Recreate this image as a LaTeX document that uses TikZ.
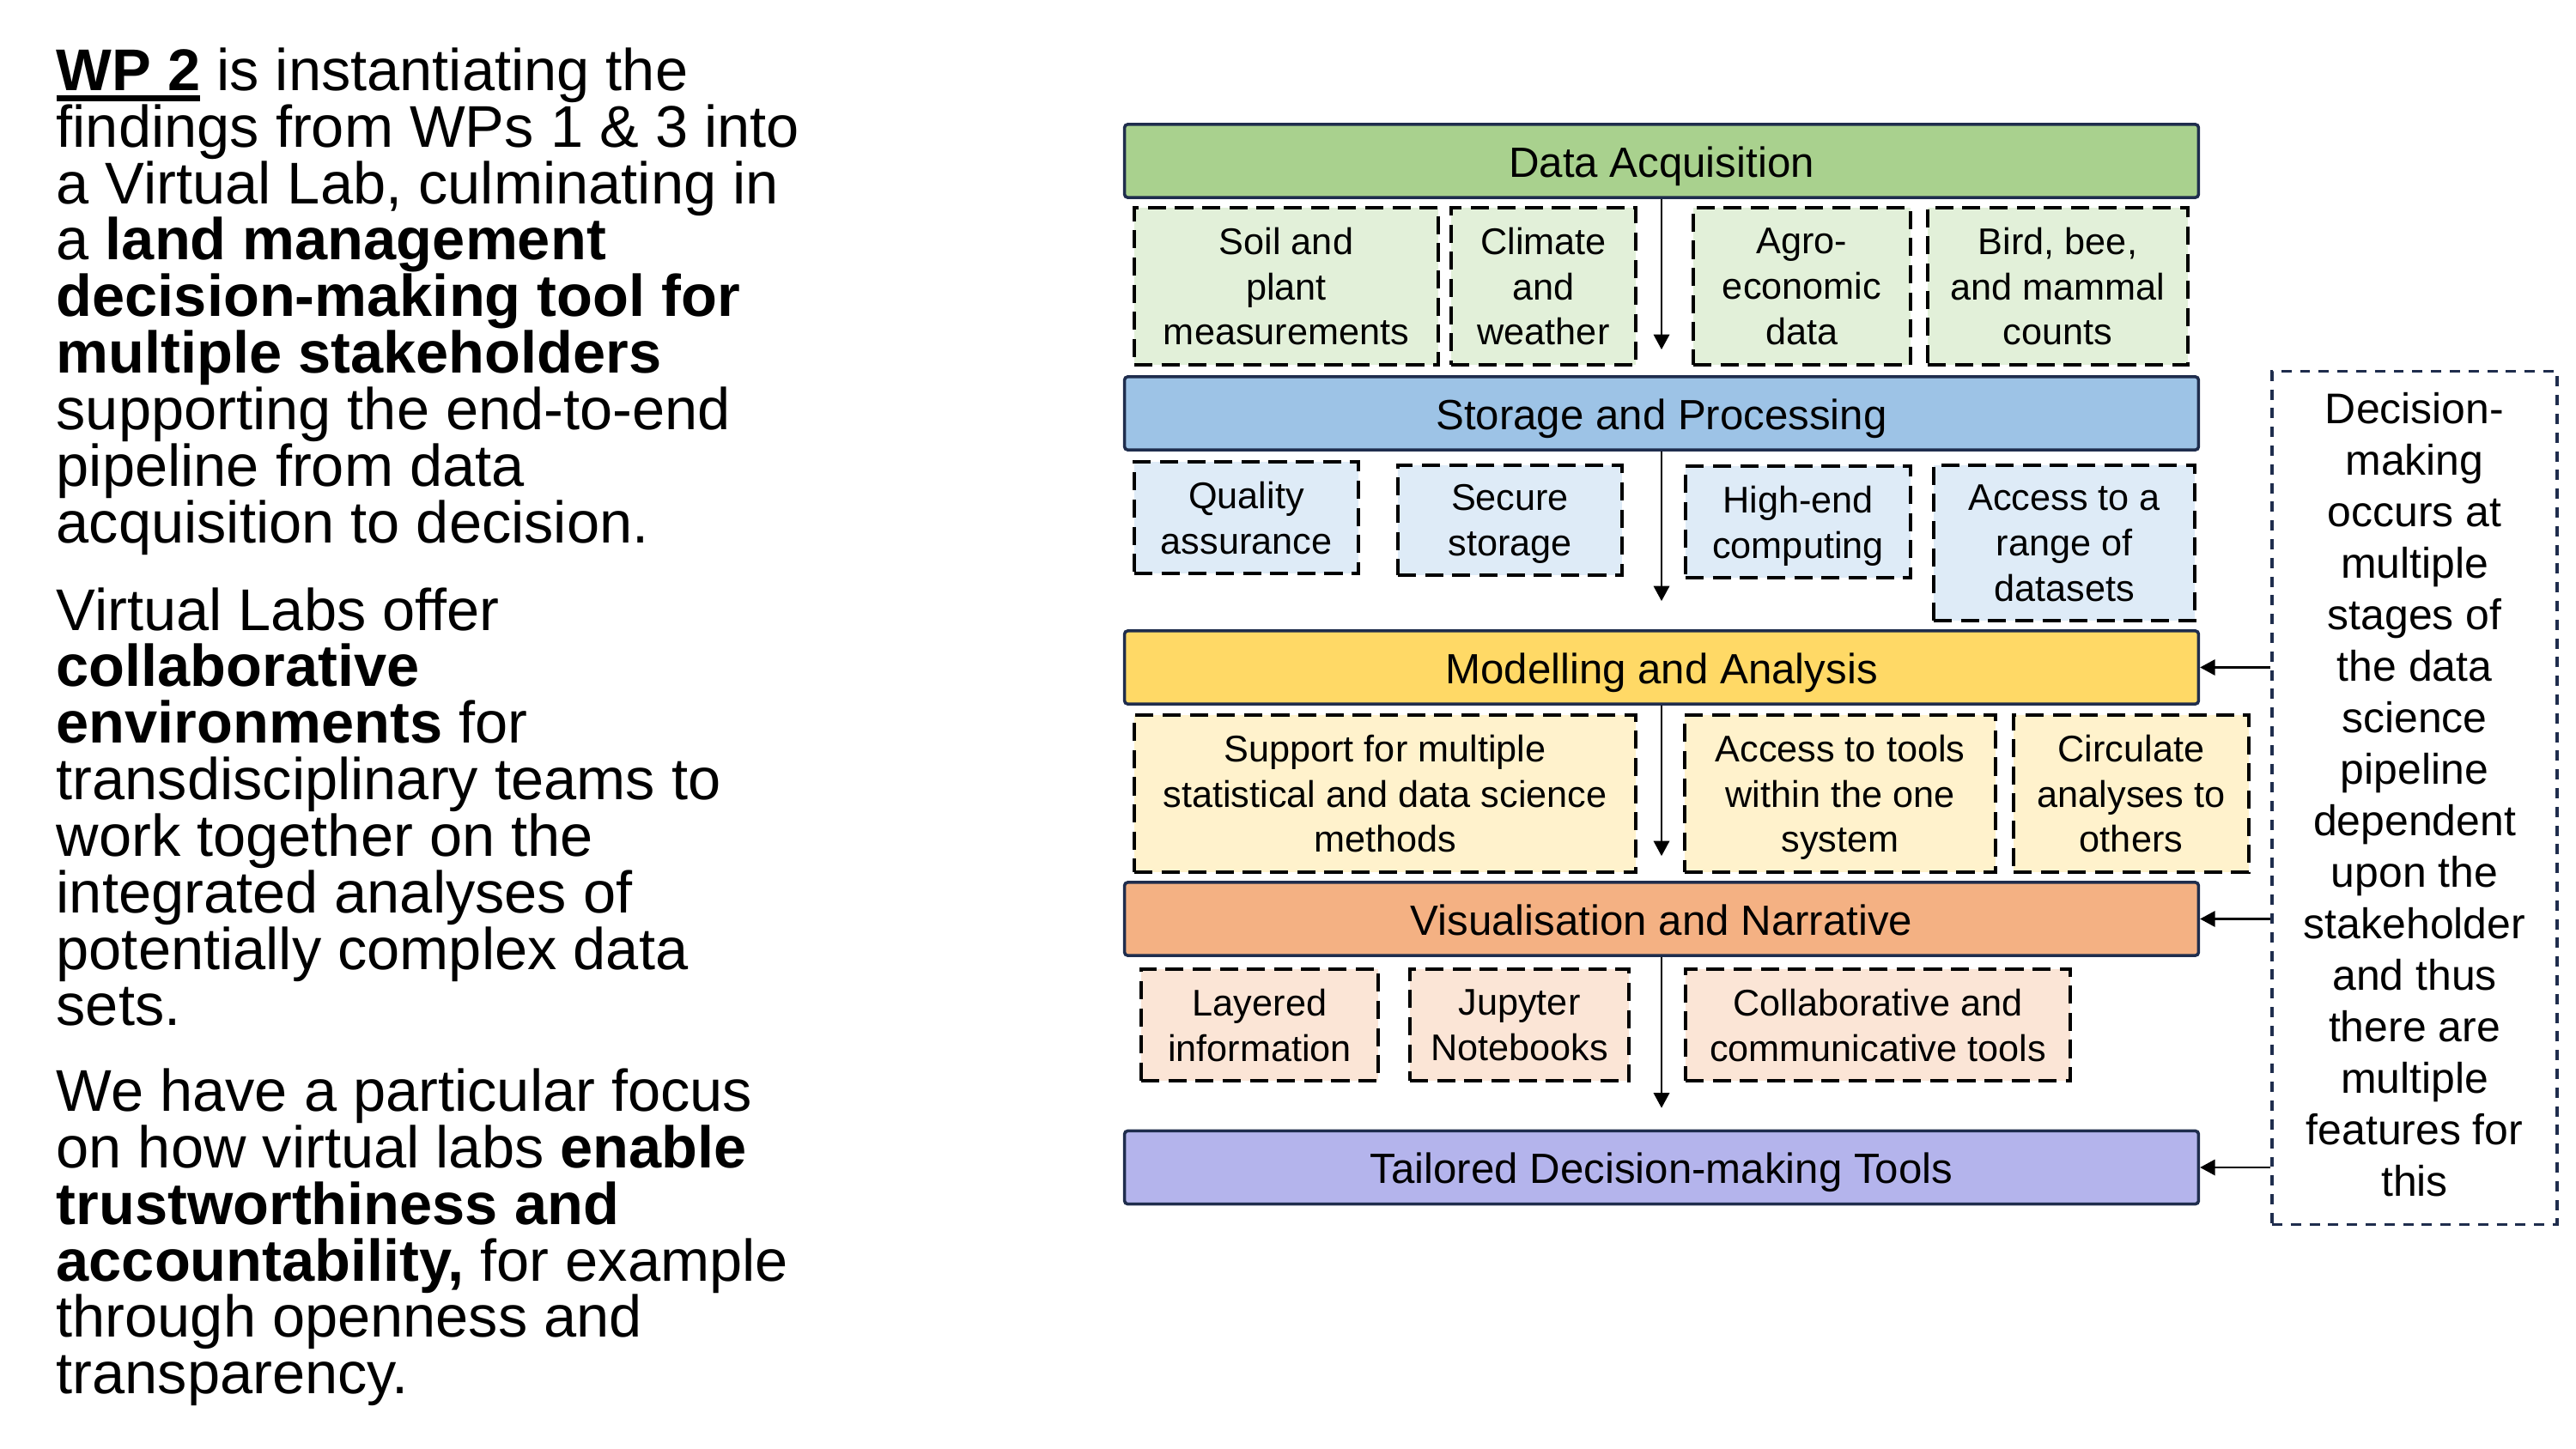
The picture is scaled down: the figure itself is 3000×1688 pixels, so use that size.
\documentclass[tikz,border=0pt]{standalone}
\usepackage{fontspec}
\setmainfont{Liberation Sans}
\usepackage{tikz}
\usepackage{xcolor}
\usetikzlibrary{arrows.meta}

\definecolor{navy}{HTML}{1F2D4D}
\definecolor{acqdark}{HTML}{A9D18E}
\definecolor{acqlight}{HTML}{E2F0D9}
\definecolor{stordark}{HTML}{9DC3E6}
\definecolor{storlight}{HTML}{DEEBF7}
\definecolor{modeldark}{HTML}{FFD966}
\definecolor{modellight}{HTML}{FFF2CC}
\definecolor{visdark}{HTML}{F4B183}
\definecolor{vislight}{HTML}{FBE5D6}
\definecolor{tooldark}{HTML}{B4B4EC}

\newcommand{\wpunder}[1]{\setbox0\hbox{#1}\rlap{\rule[-3.7pt]{\wd0}{2pt}}\box0\relax}

\tikzset{
  stage/.style={draw=navy,line width=1pt,rounded corners=1pt,minimum width=12.5cm,minimum height=0.85cm,
    inner sep=0pt,text height=12pt,text depth=1.4pt,font=\fontsize{14}{17}\selectfont},
  item/.style={draw,line width=1pt,dash pattern=on 6pt off 3pt,inner sep=0pt,align=center,
    text depth=0pt,font=\fontsize{12.3}{15}\selectfont},
}

\begin{document}
\begin{tikzpicture}[x=0.01cm,y=-0.01cm,>={Triangle[length=5pt,width=5.2pt]}]
        \useasboundingbox (0,0) rectangle (3000,1688);

        \node[anchor=north west,inner sep=0pt,align=left,font=\fontsize{19.5}{18.72}\selectfont] (intro) at (65,55)
          {\wpunder{\textbf{WP 2}} is instantiating the\\
           findings from WPs 1 \& 3 into\\
           a Virtual Lab, culminating in\\
           a \textbf{land management}\\
           \textbf{decision-making tool for}\\
           \textbf{multiple stakeholders}\\
           supporting the end-to-end\\
           pipeline from data\\
           acquisition to decision.\\[10.3pt]
           Virtual Labs offer\\
           \textbf{collaborative}\\
           \textbf{environments} for\\
           transdisciplinary teams to\\
           work together on the\\
           integrated analyses of\\
           potentially complex data\\
           sets.\\[9.6pt]
           We have a particular focus\\
           on how virtual labs \textbf{enable}\\
           \textbf{trustworthiness and}\\
           \textbf{accountability,} for example\\
           through openness and\\
           transparency.};

        \node[stage,fill=acqdark] (acq) at (1935,187.5) {Data Acquisition};
        \node[stage,fill=stordark] (stor) at (1935,481.5) {Storage and Processing};
        \node[stage,fill=modeldark] (model) at (1935,777.5) {Modelling and Analysis};
        \node[stage,fill=visdark] (vis) at (1935,1070.5) {Visualisation and Narrative};
        \node[stage,fill=tooldark] (tools) at (1935,1360) {Tailored Decision-making Tools};

        \node[item,fill=acqlight,minimum width=3.54cm,minimum height=1.83cm] (soil) at (1498,333.5) {Soil and\\plant\\measurements};
        \node[item,fill=acqlight,minimum width=2.15cm,minimum height=1.83cm] (climate) at (1797.5,333.5) {Climate\\and\\weather};
        \node[item,fill=acqlight,minimum width=2.53cm,minimum height=1.83cm] (agro) at (2098.5,333.5) {Agro-\\economic\\data};
        \node[item,fill=acqlight,minimum width=3.03cm,minimum height=1.83cm] (bird) at (2396.5,333.5) {Bird, bee,\\and mammal\\counts};

        \node[item,fill=storlight,minimum width=2.61cm,minimum height=1.30cm] (quality) at (1451.5,603) {Quality\\assurance};
        \node[item,fill=storlight,minimum width=2.61cm,minimum height=1.28cm] (secure) at (1758.5,606) {Secure\\storage};
        \node[item,fill=storlight,minimum width=2.62cm,minimum height=1.30cm] (hpc) at (2094,608) {High-end\\computing};
        \node[item,fill=storlight,minimum width=3.04cm,minimum height=1.81cm] (range) at (2404,632.5) {Access to a\\range of\\datasets};

        \node[item,fill=modellight,minimum width=5.84cm,minimum height=1.83cm] (support) at (1613,924.5) {Support for multiple\\statistical and data science\\methods};
        \node[item,fill=modellight,minimum width=3.62cm,minimum height=1.83cm] (onesys) at (2143,924.5) {Access to tools\\within the one\\system};
        \node[item,fill=modellight,minimum width=2.74cm,minimum height=1.83cm] (circ) at (2482,924.5) {Circulate\\analyses to\\others};

        \node[item,fill=vislight,minimum width=2.76cm,minimum height=1.30cm] (layered) at (1467,1194) {Layered\\information};
        \node[item,fill=vislight,minimum width=2.55cm,minimum height=1.30cm] (jupyter) at (1769.5,1194) {Jupyter\\Notebooks};
        \node[item,fill=vislight,minimum width=4.48cm,minimum height=1.30cm] (collab) at (2187,1194) {Collaborative and\\communicative tools};

        \node[draw=navy,line width=0.95pt,dash pattern=on 3.4pt off 2.8pt,inner sep=0pt,align=center,
          minimum width=3.32cm,minimum height=9.93cm,font=\fontsize{14.2}{17.05}\selectfont,
          execute at end node={\rule[-2.3pt]{0pt}{2.3pt}}] (note) at (2812,929.5)
          {Decision-\\making\\occurs at\\multiple\\stages of\\the data\\science\\pipeline\\dependent\\upon the\\stakeholder\\and thus\\there are\\multiple\\features for\\this};

        \draw[->,line width=0.75pt] (acq.south) -- ([yshift=0.3cm]stor.north);
        \draw[->,line width=0.75pt] (stor.south) -- ([yshift=0.33cm]model.north);
        \draw[->,line width=0.75pt] (model.south) -- ([yshift=0.29cm]vis.north);
        \draw[->,line width=0.75pt] (vis.south) -- ([yshift=0.25cm]tools.north);

        \draw[->,line width=0.75pt] (note.west |- model.east) -- (model.east);
        \draw[->,line width=0.75pt] (note.west |- vis.east) -- (vis.east);
        \draw[->,line width=0.75pt] (note.west |- tools.east) -- (tools.east);
    \end{tikzpicture}
\end{document}
